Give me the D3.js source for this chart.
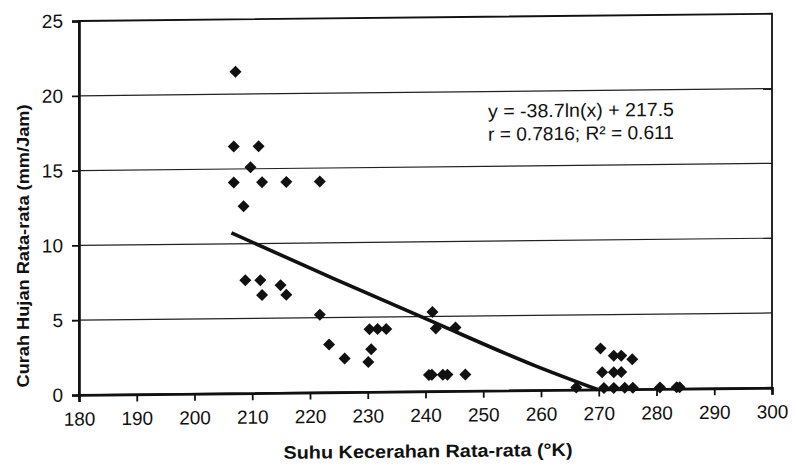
<!DOCTYPE html>
<html>
<head>
<meta charset="utf-8">
<script src="https://cdn.jsdelivr.net/npm/d3@7"></script>
<style>
  body { margin: 0; background: #fff; }
  text { font-family: Arial, "Liberation Sans", sans-serif; fill: #111; }
</style>
</head>
<body>
<div id="chart"></div>
<script>
var svgWidth = 794;
var svgHeight = 468;

var margin = { top: 21, right: 22, bottom: 73, left: 79 };
var width = svgWidth - margin.left - margin.right;
var height = svgHeight - margin.top - margin.bottom;
var skew = -0.6; // the scanned page is slightly tilted

// data
var suhu = [207.1, 206.8, 211.1, 209.7, 206.8, 211.7, 215.9, 221.7, 208.5,
  208.8, 211.4, 214.9, 211.7, 215.9, 221.7, 223.3, 226.0, 230.1, 230.6,
  230.3, 231.7, 233.2, 241.2, 241.8, 245.2, 240.6, 241.1, 243.0, 243.8, 246.9,
  266.1, 270.3, 272.6, 273.9, 275.8, 270.6, 272.6, 273.9,
  270.9, 272.6, 274.5, 275.9, 280.6, 283.5, 284.0];
var hujan = [21.5, 16.5, 16.5, 15.1, 14.1, 14.1, 14.1, 14.1, 12.5,
  7.55, 7.55, 7.2, 6.55, 6.55, 5.2, 3.2, 2.25, 2.0, 2.85,
  4.2, 4.2, 4.2, 5.3, 4.2, 4.25, 1.1, 1.1, 1.1, 1.1, 1.1,
  0.15, 2.75, 2.25, 2.25, 2.0, 1.15, 1.15, 1.15,
  0.1, 0.1, 0.1, 0.1, 0.1, 0.1, 0.1];
var xTicks = [180, 190, 200, 210, 220, 230, 240, 250, 260, 270, 280, 290, 300];
var yTicks = [0, 5, 10, 15, 20, 25];
// logarithmic trendline as drawn in the figure
var trendX = [206.4, 224.1, 241.0, 258.7, 269.8];
var trendY = [10.73, 7.6, 4.69, 1.68, 0];
var eqLines = ["y = -38.7ln(x) + 217.5", "r = 0.7816; R\u00B2 = 0.611"];

var data = suhu.map((s, i) => ({ x: s, y: hujan[i] }));
var trend = trendX.map((t, i) => ({ x: t, y: trendY[i] }));

var svg = d3.select("#chart").append("svg")
  .attr("width", svgWidth)
  .attr("height", svgHeight);

var chartGroup = svg.append("g")
  .attr("transform", `translate(${margin.left}, 0) skewY(${skew}) translate(0, ${margin.top})`);

var xScale = d3.scaleLinear().domain([180, 300]).range([0, width]);
var yScale = d3.scaleLinear().domain([0, 25]).range([height, 0]);

// gridlines
chartGroup.append("g")
  .selectAll("line")
  .data(yTicks.filter(d => d > 0 && d < 25))
  .enter()
  .append("line")
  .attr("x1", 0).attr("x2", width)
  .attr("y1", d => yScale(d)).attr("y2", d => yScale(d))
  .attr("stroke", "#222")
  .attr("stroke-width", 1.2);

// frame
chartGroup.append("rect")
  .attr("width", width).attr("height", height)
  .attr("fill", "none")
  .attr("stroke", "#111")
  .attr("stroke-width", 1.8);

var bottomAxis = d3.axisBottom(xScale).tickValues(xTicks).tickSize(7).tickPadding(10);
var leftAxis = d3.axisLeft(yScale).tickValues(yTicks).tickSize(7).tickPadding(9);

var xAxis = chartGroup.append("g")
  .attr("transform", `translate(0, ${height})`)
  .call(bottomAxis);
var yAxis = chartGroup.append("g").call(leftAxis);

[xAxis, yAxis].forEach(function(ax) {
  ax.select(".domain").attr("stroke", "#111").attr("stroke-width", 2.6);
  ax.selectAll(".tick line").attr("stroke", "#111").attr("stroke-width", 1.8);
  ax.selectAll(".tick text")
    .attr("fill", "#111")
    .style("font-size", "19px")
    .style("font-family", "Arial, 'Liberation Sans', sans-serif");
});

// trendline
chartGroup.append("path")
  .datum(trend)
  .attr("fill", "none")
  .attr("stroke", "#111")
  .attr("stroke-width", 3.6)
  .attr("d", d3.line().curve(d3.curveMonotoneX).x(d => xScale(d.x)).y(d => yScale(d.y)));

// diamonds
chartGroup.selectAll(".pt")
  .data(data)
  .enter()
  .append("path")
  .attr("class", "pt")
  .attr("d", d3.symbol().type(d3.symbolSquare).size(72))
  .attr("transform", d => `translate(${xScale(d.x)}, ${yScale(d.y)}) rotate(45)`)
  .attr("fill", "#111");

// equation label
chartGroup.selectAll(".eq")
  .data(eqLines)
  .enter()
  .append("text")
  .attr("class", "eq")
  .attr("x", 409)
  .attr("y", (d, i) => 101 + i * 23)
  .attr("textLength", 186)
  .attr("lengthAdjust", "spacingAndGlyphs")
  .style("font-size", "19px")
  .text(d => d);

// axis titles
chartGroup.append("text")
  .attr("x", 349)
  .attr("y", height + 66)
  .attr("text-anchor", "middle")
  .attr("textLength", 289)
  .attr("lengthAdjust", "spacingAndGlyphs")
  .style("font-size", "18px")
  .style("font-weight", "bold")
  .text("Suhu Kecerahan Rata-rata (\u00B0K)");

svg.append("text")
  .attr("transform", "rotate(-90)")
  .attr("x", -246)
  .attr("y", 29)
  .attr("text-anchor", "middle")
  .attr("textLength", 283)
  .attr("lengthAdjust", "spacingAndGlyphs")
  .style("font-size", "17px")
  .style("font-weight", "bold")
  .text("Curah Hujan Rata-rata (mm/Jam)");
</script>
</body>
</html>
